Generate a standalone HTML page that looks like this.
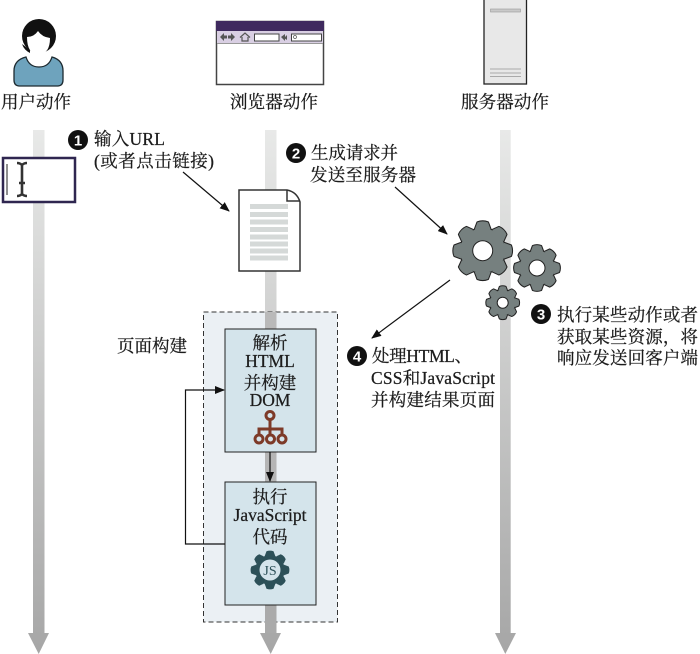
<!DOCTYPE html>
<html lang="zh"><head><meta charset="utf-8"><style>
html,body{margin:0;padding:0;background:#fff}
svg{display:block}
text{font-family:"Liberation Serif","Noto Serif CJK SC",serif;font-size:17.500px;fill:#1c1c1c;stroke:#1c1c1c;stroke-width:.25px}
.n{font-family:"Liberation Sans",sans-serif;font-size:15px;font-weight:700;fill:#fff;stroke:none;text-anchor:middle}
.m{text-anchor:middle}
</style></head><body>
<svg width="700" height="654" viewBox="0 0 700 654" xmlns="http://www.w3.org/2000/svg">
<defs>
<linearGradient id="b" x1="0" y1="0" x2="0" y2="1"><stop offset="0" stop-color="#e8e9e8"/><stop offset="1" stop-color="#a6a6a6"/></linearGradient>
<path id="t" d="M-.27-.72L-.18-.96Q0-1.030 .18-.96L.27-.72Z"/>
<g id="teeth"><use href="#t"/><use href="#t" transform="rotate(45)"/><use href="#t" transform="rotate(90)"/><use href="#t" transform="rotate(135)"/><use href="#t" transform="rotate(180)"/><use href="#t" transform="rotate(225)"/><use href="#t" transform="rotate(270)"/><use href="#t" transform="rotate(315)"/><circle r=".76"/></g>
<marker id="a" markerWidth="10" markerHeight="8" refX="9" refY="4" orient="auto" markerUnits="userSpaceOnUse"><path d="M0 0L10 4L0 8z" fill="#111"/></marker>
</defs>

<!-- lifelines -->
<g fill="url(#b)">
<path d="M33 130h11.500v503H49L38.700 654 28 633h5z"/>
<path d="M265 130h11.500v503H281L270.700 654 260 633h5z"/>
<path d="M500 130h10.700v503H516L505.300 654 495 633h5z"/>
</g>

<!-- page build area -->
<rect x="203.500" y="312" width="134" height="310" fill="#e9eff3" fill-opacity=".93" stroke="#333" stroke-width="1" stroke-dasharray="5 3"/>
<rect x="265" y="312" width="11.500" height="17" fill="#b9b9b9"/>
<rect x="265" y="452" width="11.500" height="30" fill="#b5b5b5"/>
<rect x="265" y="605" width="11.500" height="28" fill="#aaa"/>
<rect x="225" y="329" width="91" height="123" fill="#d4e4eb" stroke="#222" stroke-width="1"/>
<rect x="225" y="482" width="91" height="123" fill="#d4e4eb" stroke="#222" stroke-width="1"/>
<path d="M270 452V481" stroke="#111" stroke-width="1.200" fill="none" marker-end="url(#a)"/>
<path d="M225 544H185.500V390H224" stroke="#111" stroke-width="1.200" fill="none" marker-end="url(#a)"/>

<!-- person -->
<path d="M14 80V71q0-11 12-14 3 10 13 10t13-10q11 3 11 14v9q0 5.500-5 6H19q-5-.500-5-6z" fill="#6ea3bd" stroke="#1d2a30" stroke-width="1.300"/>
<circle cx="39" cy="36" r="17" fill="#111"/>
<path d="M30 53q-6-3-8-9l8 6z" fill="#111"/>
<path d="M27 37q7 0 11-6 4 6 12 7 0 16-11.500 16.500Q27 54 27 37z" fill="#fff"/>

<!-- browser -->
<rect x="216.500" y="21.500" width="107" height="63" fill="#fff" stroke="#444" stroke-width="1.500"/>
<rect x="216" y="21" width="108" height="10" fill="#3f2a5e"/>
<rect x="217" y="31" width="106" height="12" fill="#d9cfe3"/>
<path d="M217 43.500h106" stroke="#999"/>
<path d="M220 37l4-4v8zM224 35.500h3v3h-3zM235 37l-4-4v8zM228 35.500h3v3h-3z" fill="#555"/>
<path d="M240 37.500l5-4.500 5 4.500M242 37v4h6v-4" fill="none" stroke="#555" stroke-width="1.200"/>
<rect x="254.500" y="34" width="24.500" height="7" fill="#fff" stroke="#444"/>
<path d="M281 37l4-3v7zM284 38l3-3v5z" fill="#555"/>
<rect x="291.500" y="34" width="30" height="7" fill="#fff" stroke="#444"/>
<circle cx="295" cy="37" r="1.500" fill="none" stroke="#555" stroke-width=".7"/>

<!-- server -->
<rect x="484" y="-1" width="42.500" height="85" fill="#e8e8e8" stroke="#222" stroke-width="1.300"/>
<rect x="490.500" y="9" width="30" height="3" fill="#c9c9c9" stroke="#999" stroke-width=".6"/>
<path d="M490 69h31M490 73h31M490 76.500h31" stroke="#aaa" stroke-width="1.100"/>

<!-- URL input -->
<rect x="3" y="158" width="72" height="44" fill="#fff" stroke="#2f2650" stroke-width="2.500"/>
<path d="M7 164v31" stroke="#444" stroke-width="1.200"/>
<path d="M17 163q3 0 5 2 2-2 5-2M22 165v29M17 196q3 0 5-2 2 2 5 2M19 183h6" fill="none" stroke="#333" stroke-width="2.600"/>

<!-- document -->
<path d="M239 190H287Q297 192 300 202V271H239z" fill="#fff" stroke="#333" stroke-width="1.500"/>
<path d="M287 190V201H300" fill="none" stroke="#333" stroke-width="1.500"/>
<g fill="#d5d9d8"><rect x="250" y="204" width="38" height="5"/><rect x="250" y="212" width="38" height="5"/><rect x="250" y="219.500" width="38" height="5"/><rect x="250" y="227" width="38" height="5"/><rect x="250" y="234.500" width="38" height="5"/><rect x="250" y="241.500" width="38" height="5"/><rect x="250" y="248.500" width="38" height="5"/><rect x="250" y="255.500" width="38" height="5"/></g>

<!-- gears -->
<use href="#teeth" transform="translate(482.700 250.700) scale(29.500)" fill="#76807f" stroke="#222" stroke-width=".07" stroke-linejoin="round"/>
<use href="#teeth" transform="translate(482.700 250.700) scale(29.500)" fill="#76807f"/>
<circle cx="482.700" cy="250.700" r="10" fill="#fff" stroke="#222"/>
<use href="#teeth" transform="translate(537 268) scale(23)" fill="#76807f" stroke="#222" stroke-width=".09" stroke-linejoin="round"/>
<use href="#teeth" transform="translate(537 268) scale(23)" fill="#76807f"/>
<circle cx="537" cy="268" r="8" fill="#fff" stroke="#222"/>
<use href="#teeth" transform="translate(502.700 302.700) scale(16.500)" fill="#76807f" stroke="#222" stroke-width=".12" stroke-linejoin="round"/>
<use href="#teeth" transform="translate(502.700 302.700) scale(16.500)" fill="#76807f"/>
<circle cx="502.700" cy="302.700" r="5.500" fill="#fff" stroke="#222"/>

<!-- arrows -->
<path d="M183 172L229 211" stroke="#111" stroke-width="1.200" marker-end="url(#a)"/>
<path d="M395 187L447 234" stroke="#111" stroke-width="1.200" marker-end="url(#a)"/>
<path d="M450 280L372 338" stroke="#111" stroke-width="1.200" marker-end="url(#a)"/>

<!-- tree icon -->
<g fill="none" stroke="#7d3a28" stroke-width="3">
<path d="M270 420V434M259 435V429H282V435"/>
<circle cx="270" cy="415.500" r="4"/><circle cx="259" cy="439" r="4"/><circle cx="270.500" cy="439" r="4"/><circle cx="282" cy="439" r="4"/>
</g>

<!-- JS gear -->
<use href="#teeth" transform="translate(270 570) scale(19.500)" fill="#2c5058"/>
<circle cx="270" cy="570" r="10.500" fill="#d4e4eb"/>
<text x="270" y="575" class="m" style="font-size:14px;fill:#2c5058;stroke:none">JS</text>

<!-- number circles -->
<circle cx="78" cy="140" r="10" fill="#111"/><text x="78" y="145.500" class="n">1</text>
<circle cx="296" cy="153" r="10" fill="#111"/><text x="296" y="158.500" class="n">2</text>
<circle cx="541" cy="314" r="10" fill="#111"/><text x="541" y="319.500" class="n">3</text>
<circle cx="357" cy="356" r="10" fill="#111"/><text x="357" y="361.500" class="n">4</text>

<!-- labels -->
<text x="1" y="108" textLength="70">用户动作</text>
<text x="230" y="108" textLength="88">浏览器动作</text>
<text x="461" y="108" textLength="88">服务器动作</text>
<text x="94" y="145" textLength="71">输入URL</text>
<text x="94" y="167" textLength="120">(或者点击链接)</text>
<text x="311" y="159" textLength="87">生成请求并</text>
<text x="310" y="181" textLength="106">发送至服务器</text>
<text x="557" y="321" textLength="141">执行某些动作或者</text>
<text x="557" y="343" textLength="141">获取某些资源，将</text>
<text x="557" y="364" textLength="141">响应发送回客户端</text>
<text x="372" y="362" textLength="100">处理HTML、</text>
<text x="371" y="384" textLength="124">CSS和JavaScript</text>
<text x="371" y="406" textLength="124">并构建结果页面</text>
<text x="117" y="352" textLength="70">页面构建</text>
<text x="270" y="349" class="m">解析</text>
<text x="270" y="367" class="m">HTML</text>
<text x="270" y="389" class="m">并构建</text>
<text x="270" y="406" class="m">DOM</text>
<text x="270" y="503" class="m">执行</text>
<text x="270" y="521" class="m">JavaScript</text>
<text x="270" y="543" class="m">代码</text>
</svg>
</body></html>
